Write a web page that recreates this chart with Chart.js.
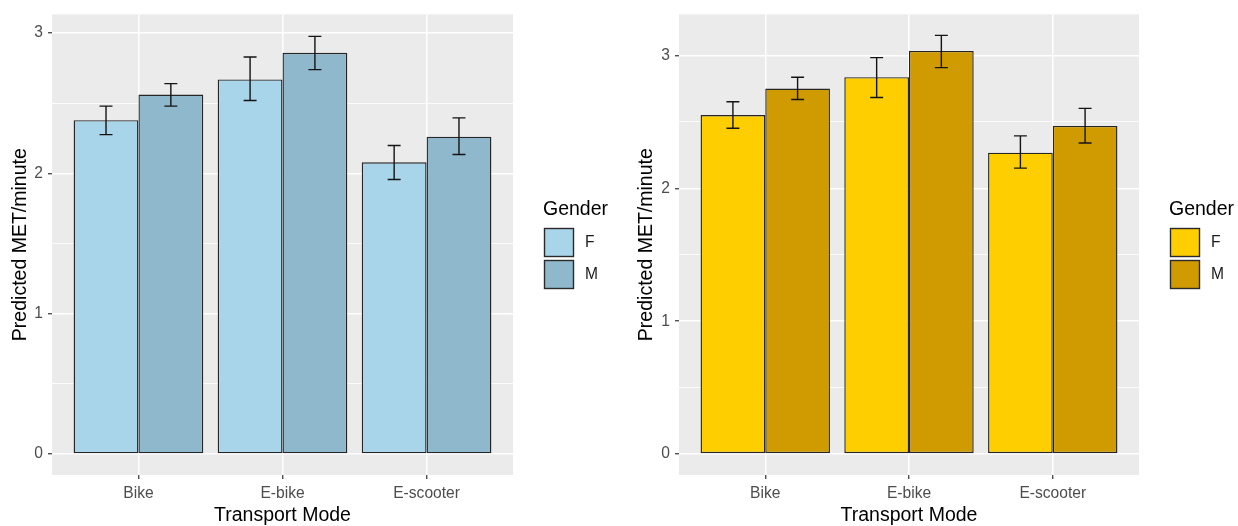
<!DOCTYPE html>
<html>
<head>
<meta charset="utf-8">
<title>Predicted MET/minute by transport mode and gender</title>
<script src="https://cdn.jsdelivr.net/npm/chart.js@4.4.1/dist/chart.umd.min.js"></script>
<style>
  html, body { margin: 0; padding: 0; background: #ffffff; }
  #wrap { position: relative; width: 1238px; height: 526px; }
  #left { position: absolute; left: 0; top: 0; }
  #right { position: absolute; left: 620px; top: 0; }
</style>
</head>
<body>
<div id="wrap">
  <canvas id="left" width="620" height="526"></canvas>
  <canvas id="right" width="618" height="526"></canvas>
</div>
<script>
'use strict';

// Categories and tick values.
const modes = ['Bike', 'E-bike', 'E-scooter'];
const genders = ['F', 'M'];
const yTicks = [0, 0.5, 1, 1.5, 2, 2.5, 3];
const xTicks = [1, 2, 3];

// Left panel (blue).
const leftF = [2.38, 2.67, 2.08];
const leftFLow = [2.277, 2.52, 1.957];
const leftFHigh = [2.48, 2.83, 2.199];
const leftM = [2.562, 2.86, 2.262];
const leftMLow = [2.48, 2.74, 2.135];
const leftMHigh = [2.64, 2.977, 2.396];

// Right panel (gold).
const rightF = [2.552, 2.837, 2.269];
const rightFLow = [2.452, 2.684, 2.152];
const rightFHigh = [2.652, 2.984, 2.395];
const rightM = [2.752, 3.035, 2.47];
const rightMLow = [2.669, 2.909, 2.342];
const rightMHigh = [2.837, 3.152, 2.602];

const FONT = 'Liberation Sans, Arial, sans-serif';

/**
 * Grey ggplot-style panel behind the grid.
 */
const panelBackground = {
  id: 'panelBackground',
  beforeDraw: function (chart) {
    const a = chart.chartArea;
    const ctx = chart.ctx;
    ctx.save();
    ctx.fillStyle = '#EBEBEB';
    ctx.fillRect(a.left, a.top, a.right - a.left, a.bottom - a.top);
    ctx.restore();
  },
};

/**
 * Error bars read from dataset.errLow / dataset.errHigh.
 */
const errorBars = {
  id: 'errorBars',
  afterDatasetsDraw: function (chart) {
    const ctx = chart.ctx;
    const yScale = chart.scales.y;
    ctx.save();
    ctx.strokeStyle = '#141414';
    ctx.lineWidth = 1.4;
    chart.data.datasets.forEach(function (ds, di) {
      const meta = chart.getDatasetMeta(di);
      meta.data.forEach(function (bar, i) {
        const lo = yScale.getPixelForValue(ds.errLow[i]);
        const hi = yScale.getPixelForValue(ds.errHigh[i]);
        const half = bar.width * 0.1;
        ctx.beginPath();
        ctx.moveTo(bar.x, lo);
        ctx.lineTo(bar.x, hi);
        ctx.moveTo(bar.x - half, lo);
        ctx.lineTo(bar.x + half, lo);
        ctx.moveTo(bar.x - half, hi);
        ctx.lineTo(bar.x + half, hi);
        ctx.stroke();
      });
    });
    ctx.restore();
  },
};

/**
 * Legend to the right of the panel, ggplot style.
 */
const genderLegend = {
  id: 'genderLegend',
  afterDraw: function (chart) {
    const ctx = chart.ctx;
    const x = chart.chartArea.right + 31;
    ctx.save();
    ctx.fillStyle = '#000000';
    ctx.font = '19.5px ' + FONT;
    ctx.textBaseline = 'alphabetic';
    ctx.fillText('Gender', x - 1, 215);
    chart.data.datasets.forEach(function (ds, i) {
      const top = 228 + i * 32;
      ctx.fillStyle = ds.backgroundColor;
      ctx.fillRect(x, top, 30, 29);
      ctx.strokeStyle = '#2a2a2a';
      ctx.lineWidth = 1.4;
      ctx.strokeRect(x + 0.5, top + 0.5, 29, 28);
      ctx.fillStyle = '#1a1a1a';
      ctx.font = '15.6px ' + FONT;
      ctx.textBaseline = 'middle';
      ctx.fillText(ds.label, x + 41, top + 15);
    });
    ctx.restore();
  },
};

function toPoints(values) {
  return values.map(function (v, i) {
    return { x: xTicks[i], y: v };
  });
}

function buildChart(canvasId, f, fLow, fHigh, m, mLow, mHigh, colors, yMin, yMax, yWidth, rightPad, titlePad) {
  const canvas = document.getElementById(canvasId);
  const ctx = canvas.getContext('2d');

  return new Chart(ctx, {
    type: 'bar',
    data: {
      datasets: [
        {
          label: genders[0],
          data: toPoints(f),
          errLow: fLow,
          errHigh: fHigh,
          backgroundColor: colors[0],
          borderColor: '#262626',
          borderWidth: 1.4,
          borderSkipped: false,
        },
        {
          label: genders[1],
          data: toPoints(m),
          errLow: mLow,
          errHigh: mHigh,
          backgroundColor: colors[1],
          borderColor: '#262626',
          borderWidth: 1.4,
          borderSkipped: false,
        },
      ],
    },
    plugins: [panelBackground, errorBars, genderLegend],
    options: {
      responsive: false,
      animation: false,
      categoryPercentage: 0.9,
      barPercentage: 1.0,
      layout: {
        padding: { top: 11, right: rightPad, left: 0, bottom: 0 },
      },
      plugins: {
        legend: { display: false },
        tooltip: { enabled: false },
      },
      scales: {
        x: {
          type: 'linear',
          min: 0.4,
          max: 3.6,
          offset: false,
          afterBuildTicks: function (axis) {
            axis.ticks = xTicks.map(function (v) { return { value: v }; });
          },
          afterFit: function (axis) {
            axis.height = 51;
          },
          grid: {
            offset: false,
            color: '#FFFFFF',
            lineWidth: 1.5,
            tickColor: '#333333',
            tickLength: 4,
            tickWidth: 1.2,
          },
          border: { display: false },
          ticks: {
            autoSkip: false,
            maxRotation: 0,
            padding: 5,
            color: '#4D4D4D',
            font: { family: FONT, size: 15.6 },
            callback: function (value) {
              return modes[value - 1];
            },
          },
          title: {
            display: true,
            text: 'Transport Mode',
            color: '#000000',
            font: { family: FONT, size: 19.5, lineHeight: 1.1 },
            padding: { top: 0, bottom: 0 },
          },
        },
        y: {
          min: yMin,
          max: yMax,
          afterBuildTicks: function (axis) {
            axis.ticks = yTicks.map(function (v) { return { value: v }; });
          },
          afterFit: function (axis) {
            axis.width = yWidth;
          },
          grid: {
            color: '#FFFFFF',
            lineWidth: function (c) {
              return c.tick && c.tick.value % 1 === 0 ? 1.5 : 0.8;
            },
            tickColor: function (c) {
              return c.tick && c.tick.value % 1 === 0 ? '#333333' : 'rgba(0,0,0,0)';
            },
            tickLength: 4,
            tickWidth: 1.2,
          },
          border: { display: false },
          ticks: {
            padding: 5,
            color: '#4D4D4D',
            font: { family: FONT, size: 15.6 },
            callback: function (value) {
              return value % 1 === 0 ? String(value) : '';
            },
          },
          title: {
            display: true,
            text: 'Predicted MET/minute',
            color: '#000000',
            font: { family: FONT, size: 19.5, lineHeight: 1.1 },
            padding: { top: titlePad, bottom: 0 },
          },
        },
      },
    },
  });
}

buildChart('left', leftF, leftFLow, leftFHigh, leftM, leftMLow, leftMHigh,
  ['#A8D5EA', '#8FB8CD'], -0.149, 3.134, 52, 107, 10);

buildChart('right', rightF, rightFLow, rightFHigh, rightM, rightMLow, rightMHigh,
  ['#FFCE00', '#D09B00'], -0.158, 3.31, 59, 99, 16);
</script>
</body>
</html>
